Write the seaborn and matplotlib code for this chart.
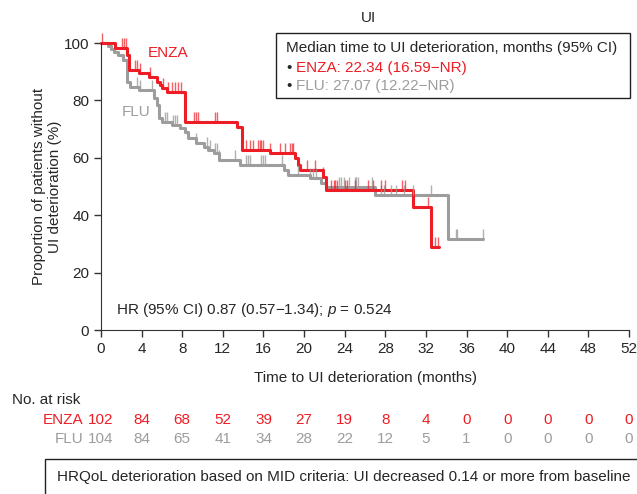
import numpy as np
import pandas as pd
import seaborn as sns
import matplotlib
matplotlib.use("Agg")
from matplotlib import pyplot as plt
from matplotlib import transforms
from matplotlib.patches import Rectangle

# step curves: time of each step (months) and survival after it (%)
enza_t = [0, 1.4, 2.6, 2.8, 3.7, 4.7, 5.5, 5.8, 6.0, 6.5, 8.3, 13.4, 13.9, 16.6, 19.1, 19.4, 19.6, 21.9, 22.2, 30.7, 32.5, 33.3]
enza_s = [100, 98.4, 95.8, 90.6, 89.4, 88.3, 86.5, 85.4, 84.2, 82.8, 72.5, 70.8, 62.7, 61.8, 59.9, 57.5, 55.7, 53.4, 48.8, 43.0, 28.8, 28.8]
flu_t = [0, 0.7, 1.0, 1.3, 1.7, 2.2, 2.6, 2.9, 3.7, 5.2, 5.5, 5.7, 6.0, 7.0, 7.8, 8.3, 8.6, 9.4, 10.1, 10.5, 11.1, 11.6,
         13.7, 18.0, 18.4, 20.6, 21.7, 22.2, 27.0, 34.2, 37.6]
flu_s = [100, 99.0, 98.0, 97.0, 95.8, 94.0, 86.5, 84.8, 83.6, 80.7, 78.4, 73.8, 72.6, 71.4, 70.5, 69.1, 66.8, 65.0, 63.9, 62.7, 61.6, 59.2,
         57.5, 55.7, 54.0, 52.8, 51.1, 49.9, 47.0, 31.6, 31.6]

# censoring marks (months)
enza_cens = [0.1, 2.1, 2.3, 2.5, 3.3, 3.5, 3.8, 4.8, 6.1, 6.6, 7.0, 7.3, 7.6, 7.9, 9.2, 9.4, 9.6, 11.2, 11.4,
             14.3, 14.7, 15.0, 15.5, 15.7, 15.8, 16.0, 16.6, 17.6, 18.1, 18.6, 18.8, 18.9, 20.3, 21.1, 21.9,
             22.7, 22.9, 23.0, 23.2, 24.0, 24.2, 25.0, 26.3, 26.8, 27.6, 28.0, 29.6, 29.9, 32.2, 32.9, 33.2]
flu_cens = [3.5, 3.8, 5.0, 6.3, 6.5, 7.1, 7.3, 7.5, 9.4, 10.4, 10.7, 11.2, 11.4, 11.6, 13.2, 14.3, 14.5, 14.7,
            15.8, 16.0, 16.2, 17.8, 19.4, 20.6, 20.9, 21.2, 23.4, 23.6, 23.9, 24.4, 25.0, 25.1, 25.3, 26.7,
            27.6, 27.9, 28.6, 29.1, 29.8, 30.7, 32.5, 35.0, 35.1, 37.6]

risk_times = list(range(0, 53, 4))
enza_risk = [102, 84, 68, 52, 39, 27, 19, 8, 4, 0, 0, 0, 0, 0]
flu_risk = [104, 84, 65, 41, 34, 28, 22, 12, 5, 1, 0, 0, 0, 0]

RED = "#ee1d25"
GREY = "#9d9d9d"

sns.set_style("ticks")
plt.rcParams["font.family"] = ["Liberation Sans", "DejaVu Sans"]
plt.rcParams["mathtext.fontset"] = "custom"
plt.rcParams["mathtext.rm"] = "Liberation Sans"
plt.rcParams["mathtext.it"] = "Liberation Sans:italic"
FS = 11


def surv_at(times, surv, t):
    i = np.searchsorted(times, t, side="right") - 1
    return np.asarray(surv)[i]


fig = plt.figure(figsize=(6.37, 4.94), dpi=100)
W, H = 637, 494
ax = fig.add_axes([101 / W, 1 - 330 / H, 528 / W, 287 / H])

curves = pd.concat([
    pd.DataFrame({"t": flu_t, "s": flu_s, "arm": "FLU"}),
    pd.DataFrame({"t": enza_t, "s": enza_s, "arm": "ENZA"}),
])
sns.lineplot(data=curves, x="t", y="s", hue="arm", palette={"ENZA": RED, "FLU": GREY},
             drawstyle="steps-post", estimator=None, sort=False, linewidth=2.2,
             legend=False, ax=ax, clip_on=False)

ax.plot(flu_cens, [surv_at(flu_t, flu_s, c) for c in flu_cens], ls="none", marker=2,
        ms=7, mew=1, color=GREY, alpha=0.8, clip_on=False)
ax.plot(enza_cens, [surv_at(enza_t, enza_s, c) for c in enza_cens], ls="none", marker=2,
        ms=7, mew=1, color=RED, alpha=0.7, clip_on=False)

ax.set_xlim(0, 52)
ax.set_ylim(0, 100)
ax.set_xticks(risk_times)
ax.set_yticks(range(0, 101, 20))
ax.tick_params(labelsize=FS, length=5, width=1, color="#333333")
for sp in ["left", "bottom"]:
    ax.spines[sp].set_color("#333333")
sns.despine(ax=ax)
ax.set_xlabel("Time to UI deterioration (months)", fontsize=FS, labelpad=11)
ax.set_ylabel("Proportion of patients without\nUI deterioration (%)", fontsize=FS, labelpad=1,
              multialignment="center")
fig.text(368 / W, 1 - 18 / H, "UI", fontsize=FS, ha="center", va="center")

ax.text(4.6, 96.5, "ENZA", color=RED, fontsize=FS, va="center")
ax.text(2.0, 76, "FLU", color=GREY, fontsize=FS, va="center")
ax.text(1.5, 7, "HR (95% CI) 0.87 (0.57\u22121.34); $p$ = 0.524", fontsize=FS, va="center")

# median box
fig.patches.append(Rectangle((276 / W, 1 - 98 / H), 354 / W, 65 / H, transform=fig.transFigure,
                             fill=False, edgecolor="#222222", linewidth=1))
fig.text(286 / W, 1 - 48 / H, "Median time to UI deterioration, months (95% CI)", fontsize=FS, va="center")
fig.text(286 / W, 1 - 68 / H, "\u2022", fontsize=FS, va="center")
fig.text(296 / W, 1 - 68 / H, "ENZA: 22.34 (16.59\u2212NR)", fontsize=FS, va="center", color=RED)
fig.text(286 / W, 1 - 86 / H, "\u2022", fontsize=FS, va="center")
fig.text(296 / W, 1 - 86 / H, "FLU: 27.07 (12.22\u2212NR)", fontsize=FS, va="center", color=GREY)

# numbers at risk
tr = transforms.blended_transform_factory(ax.transData, fig.transFigure)
fig.text(12 / W, 1 - 400 / H, "No. at risk", fontsize=FS, va="center")
fig.text(83 / W, 1 - 420 / H, "ENZA", fontsize=FS, va="center", ha="right", color=RED)
fig.text(83 / W, 1 - 439 / H, "FLU", fontsize=FS, va="center", ha="right", color=GREY)
for t, a, b in zip(risk_times, enza_risk, flu_risk):
    ax.text(t, 1 - 420 / H, str(a), transform=tr, fontsize=FS, va="center", ha="center", color=RED, clip_on=False)
    ax.text(t, 1 - 439 / H, str(b), transform=tr, fontsize=FS, va="center", ha="center", color=GREY, clip_on=False)

# footnote box
fig.patches.append(Rectangle((45 / W, -0.05), 0.95, 0.05 + 1 - 459 / H, transform=fig.transFigure,
                             fill=False, edgecolor="#222222", linewidth=1))
fig.text(57 / W, 1 - 477 / H, "HRQoL deterioration based on MID criteria: UI decreased 0.14 or more from baseline",
         fontsize=FS, va="center")

fig.savefig("out.png", dpi=100)
